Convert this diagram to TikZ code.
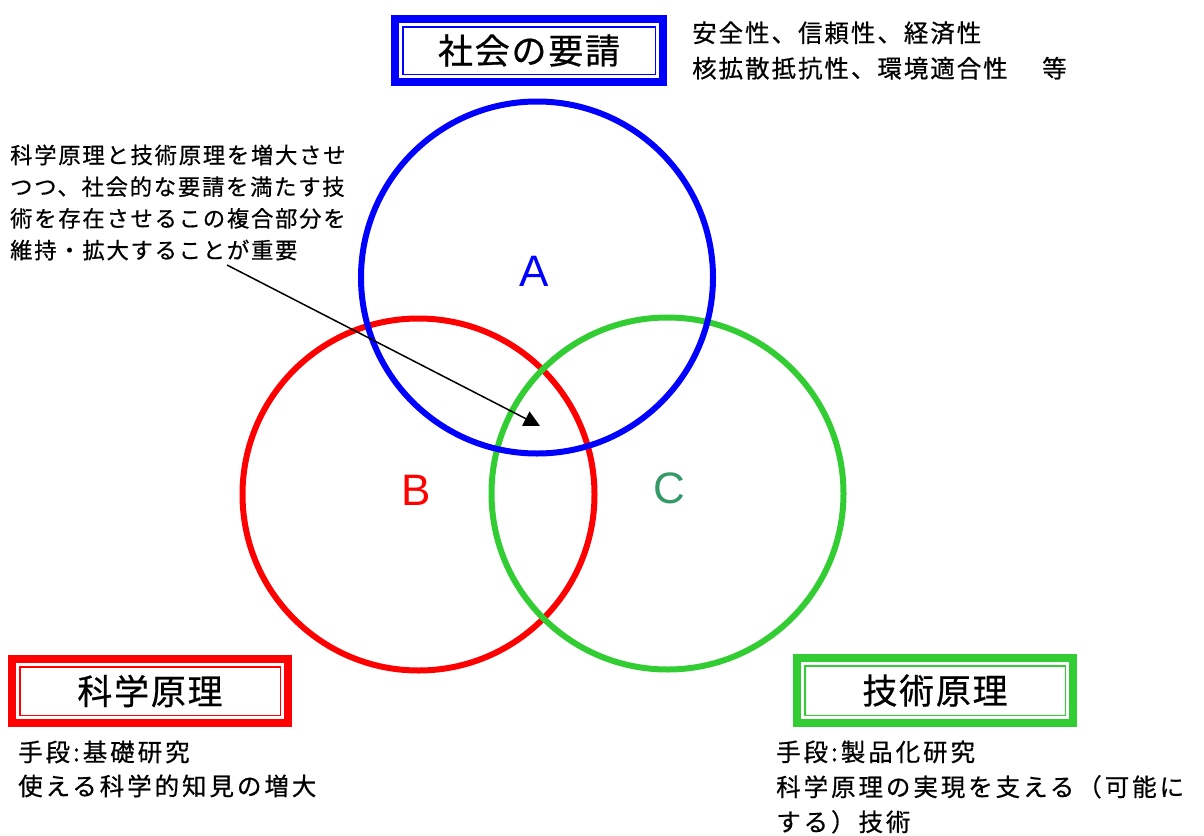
\documentclass[tikz,border=0pt]{standalone}
\usepackage{fontspec}
\setmainfont{Liberation Sans}
\newfontfamily\jp{Noto Sans CJK JP}[LetterSpace=8,FakeBold=0.6]
\newfontfamily\jpw{Noto Sans CJK JP}[LetterSpace=12,FakeBold=0.6]
\newfontfamily\jpb{Noto Sans CJK JP}[LetterSpace=5,FakeBold=0.6]
\usetikzlibrary{arrows.meta}
\definecolor{cblue}{RGB}{0,0,255}
\definecolor{cred}{RGB}{255,0,0}
\definecolor{cgreen}{RGB}{50,205,50}
\definecolor{cteal}{RGB}{51,153,102}
\begin{document}
\begin{tikzpicture}[x=1pt,y=-1pt,
  venn/.style={circle, draw, line width=6pt, minimum size=352pt, inner sep=0pt},
  titlebox/.style={line width=8pt, fill=white, minimum width=276pt, minimum height=64pt, inner sep=0pt, font=\jpb\fontsize{35}{40}\selectfont},
  innerline/.style={line width=1.8pt},
  letter/.style={inner sep=0pt, font=\fontsize{44}{50}\selectfont},
  note/.style={align=left, anchor=west, inner sep=0pt},
]
\useasboundingbox (0,0) rectangle (1204,835);
% circles
\node[venn, cred] (cB) at (418.5,494.5) {};
\node[venn, cgreen] (cC) at (667.5,493.5) {};
\node[venn, cblue] (cA) at (537,277.5) {};
% letters
\node[letter, text=cblue] (lA) at (534,271) {A};
\node[letter, text=cred] (lB) at (416,490) {B};
\node[letter, text=cteal] (lC) at (669,488) {C};
% title boxes
\node[titlebox, draw=cblue, minimum width=268pt, minimum height=63pt] (soc) at (529,50.5) {社会の要請};
\draw[innerline, cblue] ([xshift=11.6pt,yshift=-11.6pt]soc.north west) rectangle ([xshift=-11.6pt,yshift=11.6pt]soc.south east);
\node[titlebox, draw=cred] (sci) at (150,691) {科学原理};
\draw[innerline, cred] ([xshift=11.6pt,yshift=-11.6pt]sci.north west) rectangle ([xshift=-11.6pt,yshift=11.6pt]sci.south east);
\node[titlebox, draw=cgreen, minimum height=65pt] (tec) at (935,690.5) {技術原理};
\draw[innerline, cgreen] ([xshift=11.6pt,yshift=-11.6pt]tec.north west) rectangle ([xshift=-11.6pt,yshift=11.6pt]tec.south east);
% notes
\node[note, font=\jp\fontsize{24.5}{35.5}\selectfont] (req) at (692,50.5) {安全性、信頼性、経済性\\核拡散抵抗性、環境適合性　\hspace{8pt}等};
\node[note, font=\jp\fontsize{22.3}{31.7}\selectfont] (ann) at (10,202.5) {科学原理と技術原理を増大させ\\つつ、社会的な要請を満たす技\\術を存在させるこの複合部分を\\維持・拡大することが重要};
\node[note, font=\jpw\fontsize{24.5}{34}\selectfont] (scin) at (18,769) {手段:基礎研究\\使える科学的知見の増大};
\node[note, font=\jpw\fontsize{24.5}{35}\selectfont] (tecn) at (776,787) {手段:製品化研究\\科学原理の実現を支える（可能に\\する）技術};
% arrow
\coordinate (as) at (227,265);
\coordinate (ae) at (540,426);
\draw[line width=1.5pt, -{Triangle[length=16pt,width=16pt]}] (as) -- (ae);
\end{tikzpicture}
\end{document}
